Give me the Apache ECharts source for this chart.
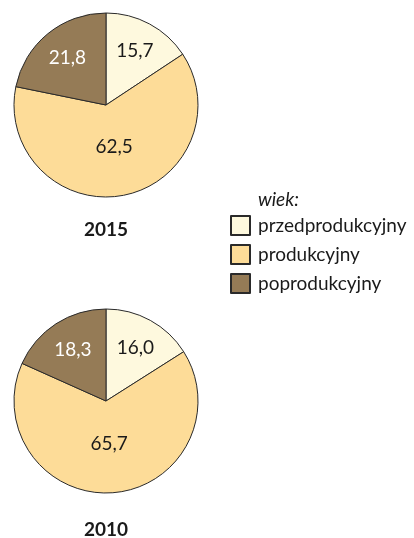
<!DOCTYPE html>
<html>
<head>
<meta charset="utf-8">
<script src="https://cdn.jsdelivr.net/npm/echarts@6/dist/echarts.min.js"></script>
<style>html,body{margin:0;padding:0;background:#fff}#c{width:414px;height:538px}</style>
</head>
<body>
<div id="c"></div>
<script>
const categories = ['przedprodukcyjny', 'produkcyjny', 'poprodukcyjny'];
const values2015 = [15.7, 62.5, 21.8];
const values2010 = [16.0, 65.7, 18.3];
const years = ['2015', '2010'];
const legendTitle = 'wiek:';

const colors = ['#fef9de', '#fddc98', '#957b56'];
const labelColors = ['#1a1a1a', '#1a1a1a', '#ffffff'];
const FONT = 'Lato';
const FS = 19;

function fmt(v) { return v.toFixed(1).replace('.', ','); }

function pieSeries(values, center) {
  const base = {
    type: 'pie', center: center, startAngle: 90, clockwise: true,
    avoidLabelOverlap: false, animation: false, silent: true
  };
  const visual = Object.assign({}, base, {
    radius: 92,
    label: { show: false }, labelLine: { show: false },
    data: categories.map((n, i) => ({
      name: n, value: values[i],
      itemStyle: { color: colors[i], borderColor: '#2a2a2a', borderWidth: 1 }
    }))
  });
  const mk = (radius, showIdx) => Object.assign({}, base, {
    radius: radius, legendHoverLink: false,
    labelLine: { show: false },
    data: categories.map((n, i) => ({
      name: n, value: values[i],
      itemStyle: { color: 'rgba(0,0,0,0)', borderWidth: 0 },
      label: {
        show: showIdx.includes(i), position: 'inside',
        formatter: fmt(values[i]), color: labelColors[i],
        fontFamily: FONT, fontSize: FS
      }
    }))
  });
  return [visual, mk([24, 92], [0, 2]), mk([0, 80], [1])];
}

const chart = echarts.init(document.getElementById('c'), null, { renderer: 'canvas' });
chart.setOption({
  backgroundColor: '#fff',
  animation: false,
  legend: {
    data: categories, orient: 'vertical', left: 230, top: 215, padding: 0,
    itemWidth: 19, itemHeight: 19, itemGap: 8, icon: 'rect',
    selectedMode: false,
    textStyle: { fontFamily: FONT, fontSize: FS, color: '#1a1a1a', padding: [0, 0, 0, 3] }
  },
  graphic: [
    { type: 'text', left: 258, top: 190, style: { text: legendTitle, font: 'italic ' + FS + 'px ' + FONT, fill: '#1a1a1a' } },
    { type: 'text', x: 106, y: 230, style: { text: years[0], font: 'bold ' + FS + 'px ' + FONT, fill: '#1a1a1a', textAlign: 'center', textVerticalAlign: 'middle' } },
    { type: 'text', x: 106, y: 530, style: { text: years[1], font: 'bold ' + FS + 'px ' + FONT, fill: '#1a1a1a', textAlign: 'center', textVerticalAlign: 'middle' } }
  ],
  series: [].concat(pieSeries(values2015, [106, 105]), pieSeries(values2010, [106, 401]))
});
</script>
</body>
</html>
